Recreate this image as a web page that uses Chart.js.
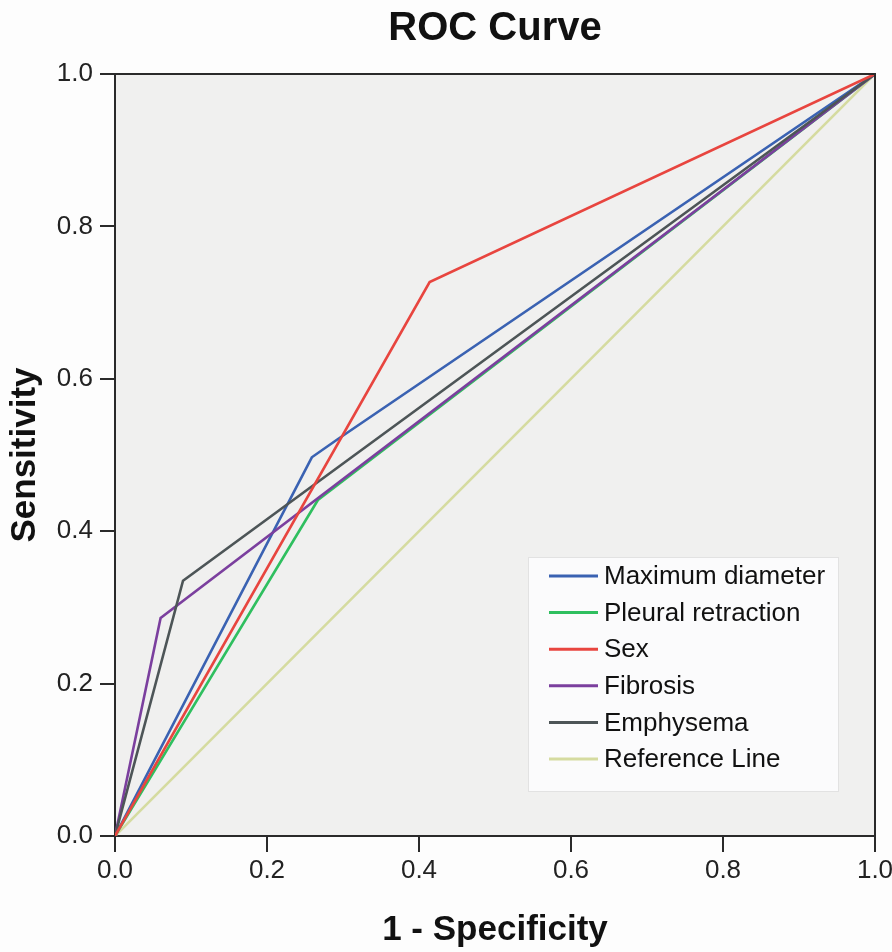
<!DOCTYPE html>
<html>
<head>
<meta charset="utf-8">
<script src="https://cdn.jsdelivr.net/npm/chart.js@4/dist/chart.umd.min.js"></script>
<style>
  html, body { margin: 0; padding: 0; background: #fdfdfd; }
  #wrap { width: 892px; height: 952px; }
</style>
</head>
<body>
<div id="wrap"><canvas id="c" width="892" height="952"></canvas></div>
<script>
// ---- Data ----
const seriesNames = ["Maximum diameter", "Pleural retraction", "Sex", "Fibrosis", "Emphysema", "Reference Line"];
const maxDiameterX = [0, 0.259, 0.292, 1];
const maxDiameterY = [0, 0.497, 0.520, 1];
const pleuralX = [0, 0.267, 1];
const pleuralY = [0, 0.441, 1];
const sexX = [0, 0.414, 1];
const sexY = [0, 0.727, 1];
const fibrosisX = [0, 0.060, 1];
const fibrosisY = [0, 0.286, 1];
const emphysemaX = [0, 0.0895, 1];
const emphysemaY = [0, 0.335, 1];
const referenceX = [0, 1];
const referenceY = [0, 1];
const tickValues = [0, 0.2, 0.4, 0.6, 0.8, 1.0];
const tickLabels = ["0.0", "0.2", "0.4", "0.6", "0.8", "1.0"];

const seriesColors = ["#3a62b2", "#2fbf5f", "#e8453f", "#7b3f9e", "#4d5557", "#d5dba0"];

function pts(xs, ys) { return xs.map((x, i) => ({ x: x, y: ys[i] })); }
const seriesX = [maxDiameterX, pleuralX, sexX, fibrosisX, emphysemaX, referenceX];
const seriesY = [maxDiameterY, pleuralY, sexY, fibrosisY, emphysemaY, referenceY];

const datasets = seriesNames.map((name, i) => ({
  label: name,
  data: pts(seriesX[i], seriesY[i]),
  borderColor: seriesColors[i],
  backgroundColor: seriesColors[i],
  borderWidth: 2.6,
  showLine: true,
  pointRadius: 0,
  tension: 0,
  order: i === 5 ? 10 : (i === 2 ? 1 : 5 - i)
}));

const FONT = "'Liberation Sans', Arial, sans-serif";

const plotBg = {
  id: 'plotBg',
  beforeDraw(chart) {
    const { ctx, chartArea: a } = chart;
    ctx.save();
    ctx.fillStyle = '#f0f0ef';
    ctx.fillRect(a.left, a.top, a.right - a.left, a.bottom - a.top);
    ctx.restore();
  },
  afterDraw(chart) {
    const { ctx, chartArea: a } = chart;
    ctx.save();
    ctx.strokeStyle = '#2a2a2a';
    ctx.lineWidth = 2;
    ctx.beginPath();
    ctx.moveTo(a.left, a.top);
    ctx.lineTo(a.right, a.top);
    ctx.lineTo(a.right, a.bottom);
    ctx.stroke();
    ctx.restore();
  }
};

const boxLegend = {
  id: 'boxLegend',
  afterDatasetsDraw(chart) {
    const { ctx } = chart;
    const bx = 528, by = 557, bw = 310, bh = 234;
    ctx.save();
    ctx.fillStyle = '#fbfbfc';
    ctx.strokeStyle = '#e2e2e2';
    ctx.lineWidth = 1;
    ctx.fillRect(bx, by, bw, bh);
    ctx.strokeRect(bx + 0.5, by + 0.5, bw, bh);
    ctx.font = "26px " + FONT;
    ctx.textBaseline = 'middle';
    ctx.textAlign = 'left';
    chart.data.datasets.forEach((ds, i) => {
      const y = 576 + i * 36.6;
      ctx.strokeStyle = ds.borderColor;
      ctx.lineWidth = 3;
      ctx.beginPath();
      ctx.moveTo(549, y);
      ctx.lineTo(598, y);
      ctx.stroke();
      ctx.fillStyle = '#111';
      ctx.fillText(ds.label, 604, y + 1);
    });
    ctx.restore();
  }
};

function axisCommon(extra) {
  return Object.assign({
    type: 'linear',
    min: 0,
    max: 1,
    afterBuildTicks(scale) { scale.ticks = tickValues.map(v => ({ value: v })); },
    border: { display: true, color: '#2a2a2a', width: 2 },
  }, extra);
}

new Chart(document.getElementById('c'), {
  type: 'scatter',
  data: { datasets: datasets },
  options: {
    responsive: false,
    animation: false,
    devicePixelRatio: 1,
    layout: { padding: { left: 0, right: 17, top: 0, bottom: 0 } },
    plugins: {
      legend: { display: false },
      tooltip: { enabled: false },
      title: {
        display: true,
        fullSize: false,
        text: 'ROC Curve',
        color: '#111',
        font: { family: FONT, size: 40, weight: 'bold', lineHeight: 1.2 },
        padding: { top: 5, bottom: 21 }
      }
    },
    scales: {
      x: axisCommon({
        position: 'bottom',
        afterFit(scale) { scale.height = 116; scale.paddingRight = 0; scale.paddingLeft = 0; },
        grid: { drawOnChartArea: false, drawTicks: true, color: '#2a2a2a', tickColor: '#2a2a2a', lineWidth: 2, tickLength: 16 },
        ticks: {
          padding: 3,
          color: '#222',
          font: { family: FONT, size: 26 },
          maxRotation: 0,
          callback: (v) => tickLabels[tickValues.findIndex(t => Math.abs(t - v) < 1e-9)]
        },
        title: {
          display: true,
          text: '1 - Specificity',
          color: '#111',
          font: { family: FONT, size: 35, weight: 'bold', lineHeight: 1.2 },
          padding: { top: 0, bottom: 1 }
        }
      }),
      y: axisCommon({
        position: 'left',
        afterFit(scale) { scale.width = 115; scale.paddingTop = 0; scale.paddingBottom = 0; },
        grid: { drawOnChartArea: false, drawTicks: true, color: '#2a2a2a', tickColor: '#2a2a2a', lineWidth: 2, tickLength: 15 },
        ticks: {
          padding: 7,
          color: '#222',
          font: { family: FONT, size: 26 },
          callback: (v) => tickLabels[tickValues.findIndex(t => Math.abs(t - v) < 1e-9)]
        },
        title: {
          display: true,
          text: 'Sensitivity',
          color: '#111',
          font: { family: FONT, size: 35, weight: 'bold', lineHeight: 1.2 },
          padding: { top: 4, bottom: 0 }
        }
      })
    }
  },
  plugins: [plotBg, boxLegend]
});
</script>
</body>
</html>
